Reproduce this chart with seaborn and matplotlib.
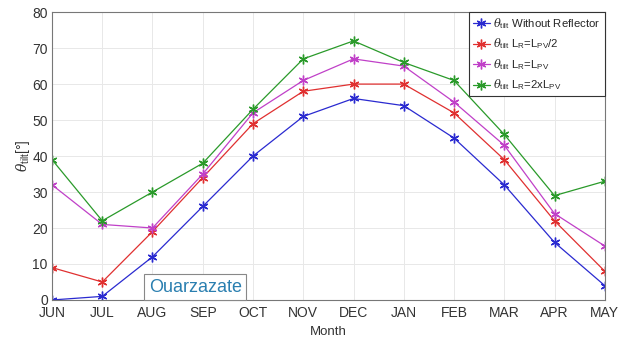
import matplotlib
matplotlib.use("Agg")
import matplotlib.pyplot as plt
import seaborn as sns
import pandas as pd

months = ["JUN", "JUL", "AUG", "SEP", "OCT", "NOV", "DEC", "JAN", "FEB", "MAR", "APR", "MAY"]
without_reflector = [0, 1, 12, 26, 40, 51, 56, 54, 45, 32, 16, 4]
lr_half = [9, 5, 19, 34, 49, 58, 60, 60, 52, 39, 22, 8]
lr_equal = [32, 21, 20, 35, 52, 61, 67, 65, 55, 43, 24, 15]
lr_double = [39, 22, 30, 38, 53, 67, 72, 66, 61, 46, 29, 33]

labels = [r"$\theta_{\rm tilt}$ Without Reflector",
          r"$\theta_{\rm tilt}$ L$_{\rm R}$=L$_{\rm PV}$/2",
          r"$\theta_{\rm tilt}$ L$_{\rm R}$=L$_{\rm PV}$",
          r"$\theta_{\rm tilt}$ L$_{\rm R}$=2xL$_{\rm PV}$"]
colors = ["#2a2ad0", "#e03030", "#c040c8", "#2a9a2a"]

sns.set_theme(style="whitegrid")
plt.rcParams["font.family"] = ["Liberation Sans", "DejaVu Sans"]
plt.rcParams["mathtext.fontset"] = "custom"
plt.rcParams["mathtext.rm"] = "Liberation Sans"
plt.rcParams["mathtext.it"] = "DejaVu Serif:italic"

fig = plt.figure(figsize=(6.19, 3.46), dpi=100)
ax = fig.add_axes([0.084, 0.133, 0.893, 0.832])

idx = list(range(len(months)))
for series, lab, col in zip([without_reflector, lr_half, lr_equal, lr_double], labels, colors):
    df = pd.DataFrame({"x": idx, "y": series})
    sns.lineplot(data=df, x="x", y="y", ax=ax, color=col, marker=(6, 2, 0), markersize=7,
                 markeredgecolor=col, markeredgewidth=1.0, linewidth=0.9, label=lab)

ax.set_xlim(0, 11)
ax.set_ylim(0, 80)
ax.set_xticks(idx)
ax.set_xticklabels(months)
ax.set_yticks(range(0, 81, 10))
ax.tick_params(axis="both", labelsize=10, colors="#333333", length=0)
ax.tick_params(axis="x", pad=4)
ax.tick_params(axis="y", pad=3)
ax.grid(True, color="#e8e8e8", linewidth=0.7)
for s in ax.spines.values():
    s.set_color("#777777")
    s.set_linewidth(0.8)
ax.set_xlabel("Month", fontsize=9.5, color="#333333", labelpad=5)
ax.set_ylabel(r"$\theta_{\rm tilt}$[°]", fontsize=10, color="#333333", labelpad=0)

leg = ax.legend(loc="upper right", fontsize=8.2, frameon=True, fancybox=False,
                borderpad=0.35, handlelength=1.5, handletextpad=0.3, labelspacing=0.5,
                borderaxespad=0.0)
leg.get_frame().set_edgecolor("#333333")
leg.get_frame().set_linewidth(0.8)
leg.get_frame().set_alpha(1)

ax.text(1.93, 1.2, "Ouarzazate", fontsize=13, color="#2a7fb0", ha="left", va="bottom",
        bbox=dict(boxstyle="square,pad=0.25", facecolor="white", edgecolor="#888888", linewidth=0.8))

fig.savefig("out.png", dpi=100)
